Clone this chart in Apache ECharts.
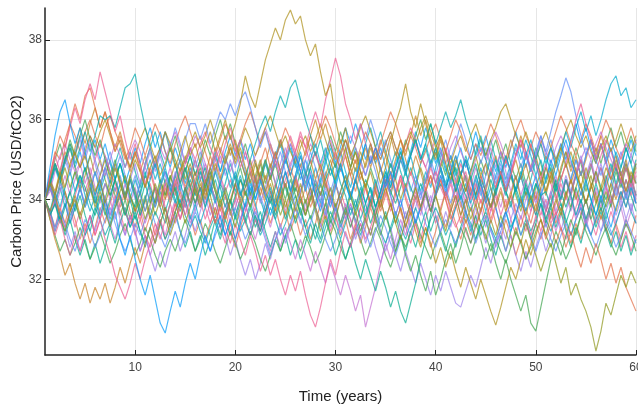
<!DOCTYPE html>
<html>
<head>
<meta charset="utf-8">
<script src="https://cdn.jsdelivr.net/npm/echarts@6/dist/echarts.min.js"></script>
<style>
  html, body { margin: 0; padding: 0; background: #fff; }
  #chart { width: 638px; height: 408px; }
</style>
</head>
<body>
<div id="chart"></div>
<script>
// simulated carbon price paths, half-year samples from year 1 to year 60
// (values estimated by eye from the reference, one row = 5 years)
var xTicks = [10, 20, 30, 40, 50, 60];
var yTicks = [32, 34, 36, 38];

var pathGoldPeak = [
  34.0, 34.4, 34.1, 34.7, 34.3, 34.9, 35.2, 34.8, 35.1, 34.6,
  34.2, 34.5, 33.9, 34.3, 34.8, 34.4, 34.0, 34.6, 35.0, 34.7,
  34.3, 34.8, 35.1, 34.6, 34.9, 35.3, 34.8, 35.2, 35.6, 35.1,
  35.4, 34.9, 35.3, 35.7, 35.2, 35.6, 36.0, 35.5, 35.9, 36.4,
  37.1, 36.6, 36.3, 36.9, 37.5, 37.9, 38.3, 38.0, 38.5, 38.75,
  38.4, 38.6, 38.0, 37.6, 37.9, 37.2, 36.6, 36.9, 36.0, 35.4,
  35.8, 35.1, 34.7, 35.2, 34.8, 35.3, 34.9, 34.4, 34.8, 35.4,
  35.9, 36.3, 36.9, 36.2, 35.8, 36.4, 35.9, 35.4, 35.0, 35.5,
  34.9, 34.5, 35.0, 34.6, 34.2, 34.7, 35.1, 34.6, 34.9, 34.3,
  33.8, 34.2, 33.7, 34.1, 34.6, 34.0, 33.6, 34.1, 33.7, 34.3,
  34.8, 34.4, 34.9, 35.3, 34.8, 35.2, 34.7, 34.3, 34.8, 34.4,
  33.9, 34.3, 34.8, 34.5, 35.0, 34.6, 34.2, 34.7, 34.4
];
var pathOliveDip = [
  34.0, 33.7, 34.1, 33.6, 33.2, 33.7, 34.0, 33.5, 33.9, 34.3,
  33.8, 34.2, 33.7, 33.3, 33.8, 34.2, 34.6, 34.1, 33.7, 34.0,
  33.5, 33.9, 34.4, 34.0, 33.6, 33.1, 33.5, 33.9, 33.4, 33.8,
  34.3, 33.9, 34.4, 34.8, 34.3, 33.9, 34.2, 33.7, 33.3, 33.8,
  34.2, 33.8, 34.3, 34.7, 34.2, 34.6, 34.1, 33.6, 34.0, 33.5,
  33.9, 34.4, 33.9, 34.3, 33.8, 33.4, 33.9, 34.3, 33.8, 34.2,
  34.6, 34.1, 33.6, 34.0, 33.5, 33.1, 33.6, 34.0, 33.5, 33.9,
  33.4, 33.0, 33.5, 33.9, 34.3, 33.8, 34.2, 33.7, 34.1, 33.6,
  33.2, 33.7, 34.1, 33.6, 34.0, 33.5, 33.9, 33.4, 33.0, 33.5,
  33.1, 33.6, 33.2, 32.8, 33.3, 32.9, 33.4, 33.0, 32.6, 32.2,
  32.6, 32.9, 32.4, 31.9, 32.3, 31.6, 31.9, 31.5, 31.2, 30.8,
  30.2, 30.7, 31.4, 31.1, 31.6, 32.1, 31.8, 32.2, 31.9
];
var pathBlueDip = [
  34.0, 34.8, 35.6, 36.2, 36.5, 35.9, 35.4, 35.8, 35.2, 34.6,
  34.1, 34.5, 33.8, 33.3, 33.7, 33.0, 32.6, 33.1, 32.5, 32.0,
  31.6, 32.1, 31.5, 30.9, 30.65, 31.2, 31.7, 31.3, 31.9, 32.4,
  32.0, 32.6, 33.1, 32.7, 33.2, 33.6, 33.1, 33.5, 33.0, 33.4,
  33.9, 34.4, 34.0, 34.5, 34.1, 33.6, 34.0, 34.5, 35.0, 34.6,
  35.1, 34.7, 34.2, 34.6, 34.1, 33.7, 34.2, 33.8, 34.3, 34.8,
  34.4, 34.0, 34.5, 35.0, 35.4, 34.9, 35.3, 34.8, 34.3, 34.7,
  34.2, 33.8, 34.3, 33.9, 33.4, 33.8, 34.2, 33.7, 34.1, 34.6,
  34.2, 34.7, 35.1, 34.6, 35.0, 34.5, 34.0, 34.4, 33.9, 34.3,
  33.8, 33.3, 33.7, 33.2, 33.6, 34.1, 33.7, 34.2, 34.6, 34.1,
  34.5, 35.0, 34.6, 35.1, 35.5, 35.0, 34.6, 34.1, 34.5, 34.0,
  33.6, 34.1, 33.7, 33.3, 33.8, 34.2, 33.8, 34.3, 33.9
];
var pathPinkPeaks = [
  34.0, 34.6, 35.1, 34.7, 35.3, 35.8, 36.3, 35.9, 36.5, 36.9,
  36.5, 37.2, 36.7, 36.2, 35.7, 36.1, 35.5, 35.0, 35.4, 34.9,
  34.4, 34.8, 34.3, 33.9, 34.4, 34.0, 34.5, 34.1, 33.6, 34.0,
  34.5, 34.9, 34.4, 34.8, 35.3, 34.9, 35.4, 35.8, 35.3, 34.8,
  35.2, 34.7, 34.2, 34.6, 34.1, 34.6, 35.0, 34.5, 35.1, 35.6,
  35.2, 35.7, 35.3, 35.8, 36.2, 35.8, 36.5, 37.0, 37.55, 37.1,
  36.4, 36.0, 35.5, 35.9, 35.4, 34.9, 35.3, 34.8, 34.3, 34.7,
  34.2, 34.6, 34.1, 33.7, 34.2, 33.8, 34.3, 34.8, 34.4, 34.9,
  35.3, 34.8, 34.4, 34.9, 34.5, 34.0, 34.4, 33.9, 34.3, 34.8,
  34.3, 34.7, 34.2, 34.6, 35.1, 35.5, 35.0, 35.4, 34.9, 34.5,
  34.9, 34.4, 34.0, 34.5, 34.9, 35.4, 36.0, 36.4, 35.9, 35.5,
  35.0, 35.4, 34.9, 34.5, 34.9, 34.4, 34.8, 34.3, 34.7
];
var pathTealPeaks = [
  34.0, 34.4, 34.9, 34.5, 35.0, 35.4, 34.9, 35.3, 35.7, 35.2,
  35.6, 36.1, 36.0, 36.1, 35.8, 36.3, 36.8, 36.9, 37.15, 36.4,
  35.8, 35.3, 35.7, 35.2, 34.8, 35.3, 34.9, 34.4, 34.8, 34.3,
  33.9, 34.3, 33.8, 34.2, 34.7, 34.3, 33.8, 34.2, 34.6, 34.1,
  34.5, 35.0, 35.4, 35.8, 36.1, 35.7, 36.2, 36.6, 36.3, 36.8,
  37.0, 36.5, 36.0, 35.6, 35.1, 35.5, 35.0, 34.6, 34.9, 34.4,
  34.1, 33.6, 34.0, 33.5, 33.9, 34.3, 33.8, 34.2, 34.7, 34.3,
  34.8, 35.2, 34.7, 35.1, 35.5, 35.0, 35.4, 35.9, 35.4, 35.8,
  36.2, 35.8, 36.1, 36.5, 36.0, 35.6, 35.1, 35.5, 35.0, 34.6,
  35.0, 34.5, 34.1, 34.6, 34.2, 33.8, 34.3, 33.9, 34.4, 34.0,
  33.5, 33.9, 34.4, 34.0, 34.5, 34.1, 33.6, 34.0, 33.5, 33.9,
  34.4, 34.0, 34.5, 34.9, 34.4, 34.8, 35.3, 34.9, 35.4
];
var pathPinkDip = [
  34.0, 33.6, 33.1, 33.5, 33.0, 32.6, 33.1, 32.7, 33.2, 33.6,
  33.1, 33.5, 33.0, 32.6, 32.1, 31.8, 31.5, 31.9, 32.4, 32.0,
  32.5, 32.9, 33.4, 33.0, 33.5, 33.9, 33.4, 33.8, 34.3, 33.9,
  34.4, 34.0, 33.5, 33.9, 33.4, 33.8, 33.3, 32.9, 33.4, 33.0,
  32.6, 33.1, 32.7, 32.2, 32.6, 32.1, 32.5, 32.0, 31.6, 32.1,
  31.7, 32.2, 31.6, 31.1, 30.8, 31.3, 31.9, 32.5, 32.1, 32.7,
  33.2, 32.8, 33.3, 33.8, 33.4, 33.9, 34.3, 33.8, 34.2, 33.7,
  34.1, 34.6, 34.2, 34.7, 34.3, 33.8, 34.2, 33.7, 34.1, 34.5,
  34.0, 34.4, 33.9, 34.3, 34.7, 34.2, 33.8, 34.3, 33.9, 33.4,
  33.8, 33.3, 33.7, 34.1, 33.6, 34.0, 33.5, 33.1, 33.6, 33.2,
  33.7, 34.1, 33.6, 34.0, 34.5, 34.1, 34.6, 35.0, 34.5, 34.9,
  34.4, 34.8, 34.3, 33.9, 34.4, 34.0, 34.5, 34.1, 34.6
];
var pathPurpleDip = [
  34.0, 34.3, 33.8, 34.2, 34.6, 34.1, 34.5, 34.9, 34.4, 34.8,
  34.3, 33.9, 34.4, 34.0, 33.5, 33.9, 34.4, 33.9, 34.3, 33.8,
  33.4, 33.8, 34.3, 33.9, 34.4, 34.8, 34.3, 34.7, 34.2, 34.6,
  35.0, 34.5, 34.9, 34.4, 34.0, 34.5, 34.1, 33.6, 34.0, 33.5,
  33.9, 33.4, 33.0, 33.5, 33.1, 32.7, 33.2, 32.8, 33.3, 32.9,
  32.5, 33.0, 32.6, 32.2, 32.7, 32.3, 31.9, 32.4, 32.0, 31.6,
  32.1, 31.7, 31.2, 31.6, 30.8, 31.3, 31.8, 32.4, 32.9, 32.5,
  33.0, 33.5, 33.1, 33.6, 34.0, 33.6, 34.1, 33.7, 34.2, 34.6,
  34.1, 34.5, 34.0, 34.4, 33.9, 34.3, 34.8, 34.4, 34.9, 35.3,
  34.8, 35.2, 34.7, 34.2, 34.6, 34.1, 34.5, 34.0, 33.6, 34.1,
  33.7, 34.2, 34.6, 34.1, 34.5, 34.0, 33.5, 33.9, 33.4, 33.8,
  34.3, 33.9, 34.4, 34.8, 34.3, 34.7, 34.2, 34.6, 34.1
];
var pathLavenderLow = [
  34.0, 34.4, 34.9, 34.5, 35.0, 34.6, 35.1, 35.5, 35.0, 35.4,
  34.9, 34.4, 34.8, 34.3, 33.9, 34.4, 34.0, 34.5, 34.9, 34.4,
  34.8, 35.2, 34.7, 35.1, 34.6, 34.2, 34.7, 34.3, 33.8, 34.2,
  33.7, 34.1, 34.6, 34.2, 34.7, 35.1, 34.6, 35.0, 34.5, 34.1,
  34.5, 34.0, 34.4, 33.9, 34.3, 34.8, 34.4, 34.9, 35.3, 34.8,
  35.2, 34.7, 34.3, 34.7, 34.2, 33.8, 34.3, 33.9, 34.4, 34.0,
  33.5, 33.9, 33.4, 33.0, 33.5, 33.1, 33.6, 33.2, 32.7, 33.1,
  32.6, 32.2, 32.7, 32.3, 31.9, 32.4, 32.0, 31.6, 32.1, 31.7,
  32.2, 31.8, 31.4, 31.3, 31.7, 32.1, 31.8, 32.3, 32.8, 32.4,
  32.9, 33.4, 33.0, 33.5, 33.9, 33.5, 34.0, 34.4, 33.9, 34.3,
  33.8, 34.2, 33.7, 34.1, 34.6, 34.2, 34.7, 35.1, 34.6, 35.0,
  34.5, 34.9, 34.4, 33.9, 34.3, 33.8, 34.2, 33.7, 34.1
];
var pathTealDip = [
  34.0, 33.6, 33.9, 33.4, 33.8, 34.2, 33.7, 34.1, 33.6, 33.2,
  33.7, 34.1, 33.6, 34.0, 34.5, 34.1, 33.6, 34.0, 33.5, 33.9,
  34.4, 33.9, 34.3, 33.8, 33.4, 33.9, 34.3, 33.8, 34.2, 34.7,
  34.2, 33.8, 34.3, 33.9, 33.4, 33.0, 33.5, 33.1, 33.6, 34.0,
  33.5, 33.1, 33.6, 33.2, 33.7, 34.1, 33.6, 34.0, 33.5, 33.9,
  33.4, 33.8, 33.3, 32.9, 33.4, 33.0, 33.5, 33.1, 32.6, 33.0,
  32.5, 32.9, 32.4, 32.0, 32.5, 32.1, 31.7, 32.2, 31.8, 31.3,
  31.7, 31.2, 30.9, 31.4, 31.9, 32.5, 33.0, 33.6, 34.2, 34.8,
  34.3, 34.7, 34.2, 34.6, 35.0, 34.5, 34.9, 34.4, 34.0, 34.5,
  34.1, 34.6, 34.2, 33.8, 34.3, 33.9, 34.4, 34.0, 33.6, 34.1,
  34.2, 33.8, 34.3, 33.9, 33.4, 33.8, 34.3, 33.9, 34.4, 34.0,
  33.6, 34.0, 33.5, 33.9, 34.4, 34.0, 34.5, 34.1, 33.7
];
var pathBluePeak = [
  34.0, 34.3, 33.9, 34.4, 34.0, 33.5, 33.9, 34.3, 33.8, 34.2,
  34.7, 34.3, 34.8, 35.2, 34.7, 35.1, 34.6, 34.2, 34.6, 34.1,
  33.7, 34.2, 33.8, 34.3, 34.7, 34.2, 34.6, 35.0, 35.5, 35.9,
  35.9, 35.5, 35.9, 35.4, 35.8, 36.2, 36.0, 36.4, 36.1, 36.5,
  36.7, 36.3, 35.8, 35.3, 35.7, 35.2, 34.8, 35.2, 34.7, 34.3,
  33.8, 34.2, 34.6, 34.1, 34.5, 34.0, 33.6, 34.1, 33.7, 34.2,
  34.6, 34.1, 34.5, 35.0, 34.6, 35.1, 34.7, 34.2, 34.6, 34.1,
  33.6, 34.0, 33.5, 33.9, 34.4, 34.0, 34.5, 34.9, 34.4, 34.8,
  34.3, 33.9, 34.4, 34.0, 33.6, 34.1, 34.5, 34.1, 34.6, 35.0,
  34.5, 34.9, 34.4, 34.8, 35.3, 34.8, 35.2, 34.7, 35.1, 35.6,
  35.2, 35.7, 36.2, 36.6, 37.05, 36.7, 36.1, 35.6, 35.1, 35.5,
  35.0, 34.6, 35.0, 34.5, 34.1, 34.5, 34.0, 34.4, 33.9
];
var pathCyanEnd = [
  34.0, 33.7, 34.2, 33.8, 34.3, 34.7, 34.2, 34.6, 34.1, 33.7,
  34.1, 33.6, 34.0, 33.5, 33.9, 34.4, 34.0, 34.5, 34.1, 33.6,
  34.0, 34.5, 34.9, 34.4, 34.8, 34.3, 33.9, 34.4, 34.0, 33.5,
  33.9, 33.4, 33.8, 34.3, 33.9, 34.4, 34.8, 34.3, 34.7, 34.2,
  33.8, 34.3, 33.9, 33.4, 33.9, 34.3, 33.8, 34.2, 34.7, 34.2,
  34.6, 35.1, 34.6, 35.0, 35.4, 34.9, 35.3, 34.8, 34.4, 34.9,
  34.4, 34.0, 34.5, 34.1, 33.6, 34.0, 34.5, 34.0, 34.4, 34.9,
  34.5, 35.0, 34.6, 35.1, 35.5, 35.0, 35.4, 34.9, 35.3, 34.8,
  34.4, 34.9, 34.5, 34.0, 34.4, 33.9, 34.3, 34.8, 34.3, 34.7,
  34.2, 34.6, 35.1, 34.7, 34.2, 34.6, 35.1, 35.5, 35.0, 35.4,
  34.9, 35.3, 34.8, 35.2, 35.7, 35.3, 35.8, 36.2, 35.7, 36.1,
  35.6, 36.0, 36.5, 36.9, 37.1, 36.6, 36.8, 36.3, 36.5
];
var pathOrangeEnd = [
  34.0, 34.6, 35.1, 35.6, 35.3, 35.9, 36.4, 36.0, 36.6, 36.8,
  36.3, 35.8, 36.2, 35.7, 35.2, 35.6, 35.1, 34.7, 35.2, 34.8,
  34.3, 34.7, 34.2, 33.8, 34.3, 33.9, 34.4, 34.8, 34.3, 34.7,
  34.2, 33.8, 34.3, 33.8, 33.4, 33.9, 33.5, 34.0, 34.4, 33.9,
  34.3, 34.8, 34.4, 34.9, 35.3, 34.8, 35.2, 34.7, 34.3, 34.8,
  34.4, 33.9, 34.3, 33.8, 34.2, 34.7, 34.3, 34.8, 35.2, 34.7,
  35.1, 34.6, 34.2, 34.7, 34.3, 33.8, 34.2, 33.7, 34.1, 34.6,
  34.1, 34.5, 34.0, 33.6, 34.1, 33.7, 34.2, 34.6, 34.1, 34.5,
  34.0, 33.5, 33.9, 33.4, 33.8, 34.3, 33.9, 34.4, 34.0, 33.5,
  33.9, 34.3, 33.8, 34.2, 33.7, 33.3, 33.8, 33.4, 33.9, 33.5,
  33.0, 33.4, 32.9, 33.3, 32.8, 33.2, 32.7, 32.3, 32.8, 32.4,
  32.9, 32.5, 32.0, 32.4, 31.9, 32.3, 31.8, 31.5, 31.2
];
var pathGoldLow = [
  34.0, 33.5, 33.0, 32.6, 32.1, 32.4, 31.9, 31.5, 31.9, 31.4,
  31.8, 31.5, 31.9, 31.4, 31.8, 32.3, 31.9, 32.4, 32.8, 32.4,
  32.9, 33.3, 32.9, 33.4, 33.8, 33.3, 33.7, 34.2, 33.8, 34.3,
  34.7, 34.2, 34.6, 35.1, 34.7, 35.2, 35.6, 35.1, 35.5, 35.0,
  34.6, 35.0, 34.5, 34.1, 34.6, 34.2, 33.7, 34.1, 33.6, 34.0,
  34.5, 34.1, 34.6, 35.0, 34.5, 34.9, 34.4, 34.0, 34.4, 33.9,
  34.3, 34.8, 34.4, 34.9, 35.3, 34.8, 35.2, 34.7, 35.1, 35.6,
  35.1, 35.5, 35.0, 34.6, 35.1, 34.7, 34.2, 34.6, 34.1, 33.7,
  34.2, 33.8, 34.3, 33.9, 33.4, 33.8, 33.3, 33.7, 34.2, 33.8,
  34.3, 34.7, 34.2, 34.6, 35.0, 34.5, 34.9, 34.4, 34.0, 34.5,
  34.1, 34.6, 35.0, 34.5, 34.9, 34.4, 34.8, 34.3, 33.9, 34.4,
  34.0, 33.5, 33.9, 34.4, 34.0, 34.5, 34.9, 34.4, 34.8
];
var pathTanDip = [
  34.0, 34.5, 34.1, 34.6, 34.2, 33.7, 34.1, 33.6, 34.0, 34.5,
  34.1, 34.6, 35.0, 34.5, 34.9, 34.4, 34.0, 34.5, 34.1, 33.6,
  34.0, 33.5, 33.9, 34.4, 34.0, 34.5, 34.9, 34.4, 34.8, 34.3,
  33.9, 34.4, 34.0, 34.5, 34.9, 34.5, 35.0, 35.4, 34.9, 35.3,
  34.8, 34.4, 34.9, 34.5, 34.0, 34.4, 33.9, 34.3, 33.8, 34.2,
  33.7, 34.1, 33.6, 34.0, 34.5, 34.1, 34.6, 35.0, 34.5, 34.9,
  35.3, 34.8, 35.2, 34.7, 34.3, 34.7, 34.2, 33.8, 34.3, 33.9,
  33.4, 33.8, 33.3, 33.7, 33.2, 32.8, 33.3, 32.9, 32.4, 32.8,
  32.3, 32.7, 32.2, 31.8, 32.3, 31.9, 31.5, 32.0, 31.6, 31.2,
  30.85, 31.3, 31.8, 32.3, 32.0, 32.5, 33.0, 32.6, 33.1, 33.5,
  33.1, 33.6, 34.0, 33.6, 34.1, 34.5, 34.0, 34.4, 33.9, 34.3,
  34.7, 34.2, 34.6, 34.1, 33.7, 34.2, 33.8, 34.3, 33.9
];
var pathGreenDip = [
  34.0, 34.4, 34.9, 34.5, 35.0, 35.5, 35.1, 35.6, 36.0, 35.5,
  35.1, 35.5, 35.0, 34.6, 35.0, 34.5, 34.1, 34.6, 34.2, 33.7,
  34.1, 33.6, 34.0, 34.5, 34.1, 34.6, 34.2, 33.8, 34.3, 33.9,
  34.4, 34.8, 34.3, 34.7, 34.2, 33.8, 34.3, 33.9, 34.4, 34.8,
  34.3, 34.7, 34.2, 34.6, 35.0, 34.5, 34.9, 34.4, 34.0, 34.5,
  34.1, 33.6, 34.0, 33.5, 33.9, 34.4, 34.0, 33.5, 33.9, 33.4,
  33.8, 33.3, 33.7, 33.2, 33.6, 34.0, 33.5, 33.1, 33.6, 33.2,
  32.7, 33.1, 32.6, 32.2, 32.6, 32.1, 31.7, 32.2, 31.6, 32.0,
  32.5, 32.9, 32.4, 32.8, 33.3, 32.9, 33.4, 33.0, 32.5, 32.9,
  32.4, 32.0, 32.5, 32.0, 31.6, 31.2, 31.6, 30.9, 30.7, 31.3,
  31.9, 32.5, 33.0, 32.6, 33.1, 33.5, 33.1, 33.6, 34.0, 33.5,
  33.9, 34.3, 33.8, 34.2, 34.7, 34.3, 34.8, 34.4, 34.9
];
var pathMid1 = [
  34.0, 34.3, 34.8, 34.4, 34.9, 35.3, 34.8, 35.2, 34.7, 35.1,
  35.5, 35.0, 35.4, 34.9, 34.5, 34.9, 34.4, 34.8, 35.3, 34.9,
  35.4, 35.8, 35.3, 35.7, 35.2, 34.8, 35.3, 34.9, 34.4, 34.8,
  34.3, 34.7, 34.2, 34.6, 35.1, 34.7, 35.2, 35.6, 35.1, 35.5,
  35.0, 35.4, 34.9, 34.5, 35.0, 34.6, 35.1, 35.5, 35.0, 35.4,
  34.9, 34.5, 35.0, 34.6, 34.1, 34.5, 35.0, 35.4, 34.9, 35.3,
  35.8, 35.4, 35.9, 35.5, 35.0, 35.4, 34.9, 35.3, 34.8, 34.4,
  34.9, 35.3, 34.8, 35.2, 35.7, 35.3, 35.8, 35.4, 34.9, 35.3,
  34.8, 34.4, 34.9, 35.3, 34.8, 35.2, 35.7, 35.2, 35.6, 35.1,
  34.7, 35.2, 34.8, 35.3, 35.7, 35.2, 34.8, 35.3, 34.9, 34.4,
  34.8, 35.3, 34.9, 35.4, 35.0, 35.5, 35.9, 35.4, 35.8, 35.3,
  34.9, 35.4, 35.0, 35.5, 35.1, 34.6, 35.0, 35.5, 35.1
];
var pathMid2 = [
  34.0, 33.7, 33.3, 33.8, 33.4, 33.9, 33.5, 33.0, 33.4, 32.9,
  33.3, 33.8, 33.4, 33.9, 34.3, 33.8, 34.2, 33.7, 33.3, 33.7,
  33.2, 33.6, 33.1, 33.5, 33.0, 33.4, 33.9, 33.5, 34.0, 33.6,
  33.1, 33.5, 33.0, 33.4, 33.8, 33.3, 33.7, 33.2, 32.8, 33.3,
  33.7, 34.2, 33.8, 34.3, 33.9, 33.4, 33.8, 33.3, 33.7, 33.2,
  33.6, 33.1, 33.5, 33.0, 33.4, 33.9, 33.5, 34.0, 33.6, 33.1,
  33.5, 33.0, 33.4, 32.9, 33.3, 33.8, 33.4, 33.9, 34.3, 33.8,
  34.2, 33.7, 33.3, 33.8, 33.4, 32.9, 33.3, 32.8, 33.2, 33.7,
  33.3, 33.8, 33.4, 33.0, 33.5, 33.1, 33.6, 34.0, 33.5, 33.9,
  33.4, 33.0, 33.5, 33.1, 32.6, 33.0, 32.5, 32.9, 33.4, 33.0,
  33.5, 33.9, 33.4, 33.8, 33.3, 32.9, 33.4, 33.0, 33.5, 33.9,
  33.4, 33.8, 33.3, 32.9, 33.4, 33.0, 33.5, 33.1, 33.6
];
var pathMid3 = [
  34.0, 34.5, 35.0, 35.4, 34.9, 35.3, 34.8, 34.4, 34.8, 34.3,
  33.9, 34.4, 34.0, 34.5, 34.1, 33.6, 34.0, 33.5, 33.9, 34.4,
  34.9, 35.3, 34.8, 35.2, 35.7, 35.2, 35.6, 35.1, 34.7, 35.1,
  34.6, 35.0, 35.5, 35.1, 35.6, 36.0, 35.5, 35.9, 35.4, 35.0,
  35.4, 34.9, 34.5, 34.9, 34.4, 34.8, 35.2, 34.7, 35.1, 34.6,
  34.2, 34.7, 34.3, 34.8, 35.2, 34.7, 35.1, 35.6, 35.2, 35.7,
  35.3, 34.8, 35.2, 34.7, 34.3, 34.8, 34.4, 34.0, 34.5, 34.1,
  34.6, 35.0, 35.5, 35.1, 35.6, 36.0, 35.5, 35.9, 35.4, 35.0,
  34.6, 35.1, 34.7, 34.2, 34.6, 34.1, 34.5, 35.0, 34.6, 35.1,
  35.5, 35.0, 35.4, 34.9, 34.5, 34.9, 34.4, 34.8, 35.3, 34.9,
  34.4, 34.8, 34.3, 34.7, 35.2, 34.8, 35.3, 34.9, 34.4, 34.8,
  35.3, 34.9, 35.4, 35.8, 35.3, 35.7, 35.2, 35.6, 35.2
];
var pathMid4 = [
  34.0, 33.6, 34.0, 33.5, 33.9, 33.4, 33.8, 34.3, 33.9, 34.4,
  34.0, 33.5, 33.9, 33.4, 33.0, 33.5, 33.1, 33.6, 33.2, 32.7,
  33.1, 32.6, 33.0, 33.5, 33.1, 33.6, 34.0, 33.5, 33.9, 33.4,
  33.8, 34.3, 33.9, 34.4, 34.0, 33.5, 33.9, 33.4, 33.8, 34.2,
  33.7, 34.1, 33.6, 33.2, 33.7, 33.3, 33.8, 34.2, 33.7, 34.1,
  34.6, 34.2, 34.7, 34.3, 33.8, 34.2, 33.7, 34.1, 33.6, 33.2,
  33.7, 33.3, 33.8, 34.2, 33.7, 34.1, 33.6, 34.0, 34.5, 34.1,
  33.6, 34.0, 33.5, 33.9, 33.4, 33.8, 34.3, 33.9, 34.4, 34.8,
  34.3, 34.7, 34.2, 33.8, 34.3, 33.9, 33.4, 33.8, 33.3, 33.7,
  34.2, 33.8, 34.3, 34.7, 34.2, 34.6, 34.1, 33.7, 34.2, 33.8,
  33.3, 33.7, 33.2, 33.6, 34.1, 33.7, 34.2, 33.8, 33.3, 33.7,
  34.2, 33.8, 34.3, 33.9, 33.4, 33.8, 33.3, 33.7, 34.2
];
var pathMid5 = [
  34.0, 34.4, 33.9, 34.3, 33.8, 34.2, 34.7, 34.3, 34.8, 34.4,
  33.9, 34.3, 34.8, 34.4, 34.9, 35.3, 34.8, 35.2, 34.7, 34.3,
  34.7, 34.2, 33.8, 34.2, 33.7, 34.1, 34.6, 34.2, 34.7, 35.1,
  34.6, 35.0, 34.5, 34.1, 34.5, 34.0, 34.4, 34.9, 34.5, 35.0,
  34.6, 34.1, 34.5, 34.0, 33.6, 34.0, 33.5, 33.9, 34.4, 34.0,
  34.5, 34.9, 34.4, 34.8, 34.3, 33.9, 34.4, 34.0, 34.5, 34.9,
  34.4, 34.8, 35.3, 34.9, 35.4, 35.8, 35.3, 35.7, 35.2, 34.8,
  35.2, 34.7, 34.3, 34.8, 34.4, 34.9, 35.3, 34.8, 35.2, 34.7,
  34.3, 34.7, 34.2, 34.6, 35.1, 34.7, 35.2, 35.6, 35.1, 35.5,
  35.0, 34.6, 35.1, 34.7, 34.2, 34.6, 34.1, 34.5, 35.0, 34.6,
  35.1, 34.7, 34.2, 34.6, 34.1, 34.5, 35.0, 34.6, 35.1, 35.5,
  35.0, 35.4, 34.9, 35.3, 34.8, 34.4, 34.9, 34.5, 35.0
];
var pathMid6 = [
  34.0, 33.6, 34.1, 33.7, 34.2, 33.8, 33.3, 33.7, 33.2, 33.6,
  33.1, 33.5, 34.0, 33.6, 34.1, 33.7, 33.2, 33.6, 33.1, 33.5,
  34.0, 34.4, 33.9, 34.3, 33.8, 33.4, 33.9, 33.5, 34.0, 34.4,
  33.9, 34.3, 33.8, 33.4, 33.8, 33.3, 32.9, 33.4, 33.0, 33.5,
  33.9, 33.4, 33.8, 33.3, 33.7, 34.2, 33.8, 34.3, 34.7, 34.2,
  34.6, 34.1, 33.7, 34.2, 33.8, 33.3, 33.7, 33.2, 33.6, 34.0,
  33.5, 33.9, 33.4, 33.8, 34.3, 33.9, 34.4, 34.0, 33.5, 33.9,
  33.4, 33.8, 33.3, 32.9, 33.4, 33.0, 33.5, 33.9, 33.4, 33.8,
  34.2, 33.7, 34.1, 33.6, 34.0, 34.5, 34.1, 34.6, 34.2, 33.7,
  34.1, 33.6, 34.0, 33.5, 33.1, 33.6, 33.2, 33.7, 34.1, 33.6,
  34.0, 33.5, 33.9, 34.4, 34.0, 34.5, 34.1, 33.6, 34.0, 33.5,
  33.1, 33.6, 33.2, 33.7, 33.3, 32.8, 33.2, 32.7, 33.1
];
var pathMid7 = [
  34.0, 34.5, 34.2, 34.7, 35.2, 34.8, 35.3, 35.8, 35.4, 35.9,
  36.3, 35.8, 36.2, 35.7, 35.3, 35.7, 35.2, 34.8, 35.2, 34.7,
  35.1, 34.6, 35.0, 34.5, 34.1, 34.6, 34.2, 34.7, 35.1, 34.6,
  35.0, 34.5, 34.1, 34.6, 34.2, 33.7, 34.1, 33.6, 34.0, 34.5,
  34.1, 34.6, 35.0, 34.5, 34.9, 35.4, 35.0, 35.5, 35.1, 34.6,
  35.0, 35.5, 35.1, 35.6, 36.0, 35.5, 35.9, 35.4, 35.0, 35.5,
  35.1, 34.6, 35.0, 34.5, 34.9, 35.4, 35.0, 35.5, 35.1, 34.6,
  35.0, 35.5, 35.1, 35.6, 36.1, 35.6, 36.0, 35.5, 35.1, 35.6,
  35.2, 34.7, 35.1, 34.6, 35.0, 34.5, 34.1, 34.6, 34.2, 34.7,
  35.1, 34.6, 35.0, 35.5, 35.1, 35.6, 35.2, 34.7, 35.1, 34.6,
  34.2, 34.7, 34.3, 34.8, 35.2, 34.7, 35.1, 34.6, 35.0, 35.5,
  35.1, 35.6, 35.2, 34.7, 35.1, 34.6, 35.0, 34.5, 34.9
];
var pathMid8 = [
  34.0, 33.7, 33.2, 33.6, 33.1, 33.5, 33.0, 32.6, 33.0, 32.5,
  32.9, 32.4, 32.8, 33.3, 32.9, 33.4, 33.8, 33.3, 33.7, 33.2,
  32.8, 33.3, 32.9, 33.4, 33.8, 33.3, 33.7, 33.2, 32.8, 33.2,
  32.7, 33.1, 32.6, 33.0, 33.5, 33.1, 33.6, 34.0, 33.5, 33.9,
  33.4, 33.8, 33.3, 33.7, 33.2, 32.8, 33.2, 32.7, 33.1, 32.6,
  33.0, 32.5, 32.9, 33.4, 33.0, 33.5, 33.9, 33.4, 33.8, 33.3,
  33.7, 34.2, 33.8, 34.3, 33.9, 33.4, 33.8, 33.3, 33.7, 33.2,
  33.6, 33.1, 32.7, 33.2, 32.8, 33.3, 33.7, 33.2, 33.6, 33.1,
  32.7, 33.2, 32.8, 33.3, 33.7, 33.2, 33.6, 33.1, 33.5, 33.0,
  32.6, 33.1, 32.7, 33.2, 33.6, 33.1, 33.5, 33.0, 33.4, 33.9,
  33.4, 33.8, 33.3, 33.7, 33.2, 32.8, 33.3, 32.9, 33.4, 33.8,
  33.3, 33.7, 33.2, 32.8, 33.2, 32.7, 33.1, 32.6, 33.0
];
var pathMid9 = [
  34.0, 34.3, 33.9, 34.4, 34.8, 34.3, 34.7, 34.2, 34.6, 35.1,
  34.6, 35.0, 34.5, 34.1, 34.5, 34.0, 33.6, 34.1, 33.7, 34.2,
  33.7, 34.1, 33.6, 34.0, 34.5, 34.1, 34.6, 35.0, 34.5, 34.9,
  34.4, 34.0, 34.5, 34.1, 33.6, 34.0, 33.5, 33.9, 34.4, 34.0,
  34.5, 34.1, 34.6, 35.0, 34.5, 34.9, 34.4, 34.0, 34.4, 33.9,
  33.5, 34.0, 33.6, 34.1, 33.7, 33.2, 33.6, 33.1, 33.5, 34.0,
  33.6, 34.1, 34.5, 34.0, 34.4, 33.9, 34.3, 34.8, 34.4, 34.9,
  34.5, 34.0, 34.4, 33.9, 34.3, 34.8, 34.4, 34.9, 35.3, 34.8,
  35.2, 34.7, 34.3, 34.7, 34.2, 34.6, 34.1, 33.7, 34.2, 33.8,
  34.3, 34.7, 34.2, 34.6, 34.1, 33.7, 34.2, 33.8, 34.3, 34.7,
  34.2, 34.6, 34.1, 33.7, 34.2, 33.8, 34.3, 34.7, 34.2, 34.6,
  34.1, 33.7, 34.2, 33.8, 34.3, 34.7, 34.2, 34.6, 34.1
];
var pathMid10 = [
  34.0, 34.4, 34.0, 33.5, 33.9, 33.4, 33.8, 34.3, 33.8, 34.2,
  34.7, 34.2, 34.6, 35.0, 34.5, 34.9, 34.4, 34.0, 34.5, 34.1,
  34.6, 35.0, 34.5, 34.9, 34.4, 34.0, 34.4, 33.9, 34.3, 33.8,
  34.2, 34.7, 34.3, 34.8, 35.2, 34.7, 35.1, 34.6, 34.2, 34.6,
  34.1, 34.5, 34.0, 34.4, 34.9, 34.5, 35.0, 35.4, 34.9, 35.3,
  34.8, 35.2, 34.7, 34.3, 34.8, 34.4, 34.9, 35.3, 34.8, 35.2,
  34.7, 34.3, 34.8, 34.4, 33.9, 34.3, 33.8, 34.2, 34.7, 34.3,
  34.8, 35.2, 34.7, 35.1, 34.6, 34.2, 34.7, 34.3, 34.8, 35.2,
  34.7, 35.1, 34.6, 35.0, 34.5, 34.1, 34.6, 34.2, 33.7, 34.1,
  34.6, 35.0, 34.5, 34.9, 35.4, 35.0, 35.5, 35.1, 34.6, 35.0,
  34.5, 34.9, 34.4, 34.0, 34.5, 34.1, 34.6, 35.0, 34.5, 34.9,
  34.4, 34.8, 34.3, 34.7, 35.2, 34.8, 35.3, 34.9, 34.4
];
var pathMid11 = [
  34.0, 33.6, 33.2, 33.7, 33.3, 32.8, 33.2, 32.7, 33.1, 33.6,
  33.2, 33.7, 34.1, 33.6, 34.0, 33.5, 33.1, 33.6, 33.2, 32.7,
  33.1, 32.6, 32.2, 32.7, 32.3, 32.8, 33.2, 32.7, 33.1, 33.6,
  33.2, 33.7, 34.1, 33.6, 34.0, 33.5, 33.1, 32.6, 33.0, 32.5,
  32.1, 32.5, 32.0, 32.4, 32.9, 32.5, 33.0, 33.4, 32.9, 33.3,
  33.8, 33.4, 33.9, 34.3, 33.8, 34.2, 33.7, 33.3, 33.8, 33.4,
  33.9, 33.5, 33.0, 33.4, 32.9, 33.3, 32.8, 32.4, 32.9, 33.3,
  32.8, 33.2, 33.7, 33.3, 33.8, 34.2, 33.7, 34.1, 33.6, 33.2,
  33.7, 33.3, 33.8, 34.2, 33.7, 33.3, 33.8, 33.4, 32.9, 33.3,
  32.8, 33.2, 32.7, 33.1, 32.6, 32.2, 32.7, 32.3, 32.8, 33.2,
  32.7, 33.1, 33.6, 33.2, 33.7, 34.1, 33.6, 34.0, 33.5, 33.1,
  33.6, 33.2, 33.7, 34.1, 33.6, 34.0, 33.5, 33.9, 33.4
];
var pathMid12 = [
  34.0, 34.5, 34.1, 34.6, 35.1, 34.7, 35.2, 35.6, 35.1, 35.5,
  35.0, 34.6, 35.1, 34.7, 34.2, 34.6, 34.1, 34.5, 34.0, 34.4,
  34.9, 35.3, 34.8, 35.2, 35.7, 35.3, 35.8, 35.4, 34.9, 35.3,
  34.8, 35.2, 34.7, 34.3, 34.8, 34.4, 34.9, 35.3, 34.8, 35.2,
  34.7, 34.2, 34.6, 34.1, 33.7, 34.2, 33.8, 34.3, 34.7, 34.2,
  34.6, 35.1, 34.7, 35.2, 34.8, 34.3, 34.7, 34.2, 34.6, 35.1,
  35.5, 35.0, 35.4, 35.9, 35.5, 36.0, 35.6, 35.1, 35.5, 35.0,
  34.6, 35.1, 34.7, 34.2, 34.6, 34.1, 34.5, 35.0, 34.6, 35.1,
  35.5, 35.0, 35.4, 35.9, 35.5, 35.0, 35.4, 34.9, 35.3, 34.8,
  34.4, 34.8, 34.3, 34.7, 34.2, 34.6, 35.1, 34.7, 35.2, 35.6,
  35.1, 35.5, 35.0, 35.4, 34.9, 34.5, 35.0, 34.6, 35.1, 35.5,
  35.0, 35.4, 34.9, 35.3, 34.8, 35.2, 34.7, 35.1, 35.5
];
var pathUpper1 = [
  34.0, 34.6, 35.2, 35.0, 35.5, 35.9, 35.6, 35.2, 35.7, 36.0,
  35.6, 35.3, 35.8, 36.1, 35.7, 35.4, 35.0, 35.3, 35.8, 35.5,
  35.1, 35.5, 35.9, 35.6, 35.2, 34.9, 35.4, 35.8, 36.1, 35.7,
  35.3, 35.6, 35.2, 34.8, 35.1, 35.5, 35.9, 35.6, 35.2, 35.5,
  35.9, 36.2, 35.8, 35.4, 35.7, 35.3, 35.0, 35.4, 35.8, 35.5,
  35.1, 34.8, 35.2, 35.6, 35.3, 35.7, 36.1, 35.8, 35.4, 35.1,
  35.5, 35.2, 34.9, 35.3, 35.7, 35.4, 35.0, 35.4, 35.8, 36.2,
  35.9, 35.5, 35.2, 35.6, 35.3, 34.9, 35.2, 35.6, 35.9, 35.5,
  35.2, 35.6, 36.0, 35.7, 35.3, 35.0, 35.4, 35.1, 35.5, 35.9,
  35.6, 35.2, 34.9, 35.3, 35.7, 36.0, 35.6, 35.3, 35.7, 35.4,
  35.0, 35.3, 35.7, 36.1, 35.8, 35.4, 35.1, 35.5, 35.9, 35.6,
  35.2, 35.6, 36.0, 35.7, 35.3, 35.0, 35.4, 35.8, 35.4
];
var pathLower1 = [
  34.0, 33.5, 33.1, 32.7, 33.0, 32.6, 32.9, 33.3, 32.9, 32.5,
  32.8, 33.2, 32.8, 32.4, 32.7, 33.1, 33.4, 33.0, 32.6, 32.9,
  33.3, 33.0, 32.6, 32.3, 32.7, 33.0, 32.7, 33.1, 33.5, 33.1,
  32.7, 33.0, 33.4, 33.1, 32.7, 32.4, 32.8, 33.2, 32.9, 32.5,
  32.8, 33.2, 32.9, 32.5, 32.2, 32.6, 33.0, 32.7, 33.1, 33.4,
  33.0, 32.7, 33.1, 32.8, 32.4, 32.7, 33.1, 33.5, 33.2, 32.8,
  32.5, 32.9, 33.3, 33.0, 32.6, 32.9, 33.3, 33.0, 32.6, 32.3,
  32.7, 33.1, 32.8, 33.2, 33.5, 33.1, 32.8, 32.5, 32.9, 33.2,
  32.8, 32.5, 32.9, 33.3, 33.0, 32.6, 33.0, 33.4, 33.1, 32.7,
  33.0, 32.7, 32.4, 32.8, 33.2, 32.9, 32.5, 32.8, 33.2, 33.5,
  33.1, 32.8, 33.2, 32.9, 32.5, 32.8, 33.2, 33.6, 33.2, 32.9,
  32.6, 33.0, 33.3, 32.9, 32.6, 33.0, 33.4, 33.1, 32.7
];
var pathUpper2 = [
  34.0, 34.2, 34.7, 35.1, 35.4, 35.0, 34.7, 34.9, 35.3, 35.6,
  35.3, 34.9, 34.6, 35.0, 35.4, 35.1, 34.8, 35.2, 35.5, 35.2,
  34.8, 34.5, 34.9, 35.3, 35.0, 35.4, 35.7, 35.3, 34.9, 35.2,
  35.6, 35.3, 34.9, 34.6, 35.0, 35.3, 35.0, 34.7, 35.1, 35.5,
  35.2, 34.8, 35.1, 35.5, 35.8, 35.4, 35.0, 34.7, 35.0, 35.4,
  35.1, 34.7, 35.0, 35.4, 35.1, 34.8, 35.2, 35.5, 35.1, 34.8,
  35.2, 35.6, 35.3, 34.9, 34.6, 35.0, 35.3, 35.0, 35.4, 35.7,
  35.3, 35.0, 34.7, 35.1, 35.4, 35.1, 34.8, 35.2, 35.5, 35.2,
  34.9, 35.3, 35.6, 35.2, 34.9, 34.6, 35.0, 35.3, 35.0, 35.4,
  35.7, 35.4, 35.0, 34.7, 35.1, 35.4, 35.1, 34.8, 35.1, 35.5,
  35.2, 34.9, 35.3, 35.6, 35.3, 34.9, 34.6, 35.0, 35.3, 35.0,
  35.4, 35.7, 35.3, 35.0, 34.7, 35.1, 35.4, 35.1, 34.8
];
var pathLower2 = [
  34.0, 33.6, 33.9, 33.5, 33.2, 33.6, 33.9, 33.5, 33.1, 33.4,
  33.8, 33.5, 33.1, 33.4, 33.8, 34.1, 33.7, 33.3, 33.6, 33.2,
  32.9, 33.3, 33.7, 33.4, 33.0, 33.3, 33.7, 34.0, 33.6, 33.3,
  33.6, 33.2, 32.9, 33.3, 33.6, 33.3, 33.7, 34.0, 33.6, 33.2,
  33.5, 33.9, 33.5, 33.1, 33.4, 33.8, 33.5, 33.1, 33.4, 33.8,
  34.1, 33.7, 33.3, 33.6, 33.2, 32.9, 33.3, 33.7, 33.4, 33.0,
  33.4, 33.8, 33.5, 33.1, 33.5, 33.9, 33.6, 33.2, 32.9, 33.3,
  33.7, 33.3, 33.0, 33.4, 33.8, 33.4, 33.1, 33.5, 33.8, 33.5,
  33.1, 33.4, 33.8, 34.1, 33.7, 33.4, 33.0, 33.4, 33.7, 33.3,
  33.0, 33.4, 33.7, 33.3, 33.6, 34.0, 33.6, 33.2, 33.5, 33.9,
  33.5, 33.2, 33.6, 33.9, 33.5, 33.1, 33.5, 33.8, 33.4, 33.1,
  33.5, 33.8, 33.4, 33.1, 33.4, 33.8, 34.1, 33.7, 33.4
];
var pathWide1 = [
  34.0, 34.3, 34.0, 33.6, 33.3, 33.7, 34.1, 34.5, 34.2, 34.6,
  35.0, 35.4, 35.1, 34.7, 34.4, 34.0, 33.7, 33.4, 33.8, 33.5,
  33.1, 32.8, 33.2, 33.6, 34.0, 34.4, 34.1, 34.5, 34.9, 35.3,
  35.0, 35.4, 35.7, 35.3, 35.0, 34.6, 34.2, 34.5, 34.1, 33.8,
  33.4, 33.1, 33.5, 33.2, 33.6, 34.0, 34.4, 34.1, 34.5, 34.9,
  35.2, 35.6, 35.3, 34.9, 35.2, 34.8, 34.5, 34.1, 33.8, 34.2,
  33.8, 33.5, 33.1, 33.4, 33.0, 33.3, 33.7, 34.1, 34.5, 34.2,
  34.6, 35.0, 35.4, 35.8, 35.5, 35.1, 34.8, 34.4, 34.7, 34.3,
  34.0, 33.6, 33.3, 33.6, 33.2, 32.9, 33.3, 33.7, 34.1, 33.8,
  34.2, 34.6, 35.0, 34.7, 35.1, 35.5, 35.2, 34.8, 34.5, 34.1,
  33.8, 33.4, 33.7, 33.3, 33.0, 33.4, 33.8, 34.2, 33.9, 34.3,
  34.7, 35.1, 35.5, 35.2, 34.8, 34.5, 34.1, 34.4, 34.0
];
var pathUpper3 = [
  34.0, 34.5, 34.9, 34.6, 35.0, 35.4, 35.1, 34.8, 35.2, 35.6,
  35.3, 35.7, 36.0, 35.6, 35.2, 35.5, 35.1, 34.8, 35.1, 35.5,
  35.8, 35.4, 35.0, 35.3, 35.7, 35.4, 35.0, 34.7, 35.0, 35.4,
  35.7, 35.3, 35.6, 36.0, 35.6, 35.2, 34.9, 35.3, 35.0, 35.4,
  35.8, 35.5, 35.1, 35.4, 35.8, 36.1, 35.7, 35.3, 35.6, 35.2,
  34.9, 35.3, 35.6, 35.2, 35.5, 35.9, 35.5, 35.1, 34.8, 35.2,
  35.5, 35.1, 35.4, 35.8, 36.1, 35.7, 35.3, 35.0, 35.4, 35.7,
  35.3, 35.0, 35.4, 35.7, 35.4, 35.8, 36.1, 35.7, 35.3, 35.6,
  35.2, 34.9, 35.3, 35.6, 35.2, 35.6, 35.9, 35.5, 35.1, 35.5,
  35.8, 36.2, 36.4, 36.0, 35.6, 35.3, 35.7, 35.3, 35.0, 35.4,
  35.7, 35.3, 35.0, 35.3, 35.7, 36.0, 35.6, 35.3, 35.6, 35.2,
  34.9, 35.3, 35.6, 35.2, 35.5, 35.9, 35.5, 35.2, 35.6
];
var pathLower3 = [
  34.0, 33.7, 33.3, 33.7, 33.4, 33.0, 32.7, 33.1, 33.5, 33.2,
  32.8, 33.1, 33.5, 33.8, 33.4, 33.0, 32.7, 33.0, 33.4, 33.1,
  33.5, 33.8, 33.4, 33.1, 32.8, 33.2, 33.6, 33.2, 32.9, 33.3,
  33.7, 33.4, 33.0, 32.7, 33.1, 33.4, 33.1, 33.5, 33.8, 33.4,
  33.0, 33.3, 33.7, 33.4, 33.0, 32.6, 33.0, 33.3, 33.0, 33.4,
  33.8, 33.5, 33.1, 33.4, 33.8, 33.4, 33.0, 32.7, 33.0, 33.4,
  33.1, 32.8, 33.2, 33.5, 33.2, 32.8, 33.2, 33.6, 33.3, 32.9,
  32.6, 33.0, 33.4, 33.1, 33.5, 33.8, 33.4, 33.1, 32.8, 33.2,
  33.5, 33.2, 32.9, 33.2, 33.6, 33.3, 32.9, 33.3, 33.6, 33.2,
  32.9, 33.2, 33.6, 33.9, 33.5, 33.1, 33.4, 33.1, 32.7, 33.1,
  33.4, 33.0, 32.7, 33.1, 33.4, 33.1, 33.5, 33.8, 33.4, 33.1,
  32.8, 33.2, 33.5, 33.2, 32.8, 33.1, 33.5, 33.2, 32.9
];
var pathCentre1 = [
  34.0, 34.4, 34.8, 34.5, 34.1, 33.8, 34.2, 34.6, 34.3, 33.9,
  33.6, 34.0, 34.4, 34.1, 34.5, 34.9, 34.5, 34.1, 33.8, 34.2,
  34.6, 34.3, 33.9, 34.3, 34.7, 34.4, 34.0, 33.7, 34.1, 34.5,
  34.1, 34.5, 34.8, 34.4, 34.0, 34.4, 34.1, 33.7, 34.1, 34.5,
  34.2, 33.8, 34.2, 34.6, 34.2, 33.9, 34.3, 34.7, 34.3, 33.9,
  34.3, 34.0, 33.6, 34.0, 34.4, 34.1, 34.5, 34.8, 34.4, 34.0,
  34.4, 34.1, 33.7, 34.1, 34.5, 34.2, 33.8, 34.2, 34.6, 34.2,
  33.9, 34.3, 34.7, 34.3, 34.0, 34.4, 34.1, 33.7, 34.1, 34.4,
  34.1, 34.5, 34.8, 34.4, 34.1, 33.7, 34.1, 34.5, 34.2, 33.8,
  34.2, 34.6, 34.2, 33.9, 34.3, 34.7, 34.3, 34.0, 34.4, 34.1,
  33.7, 34.1, 34.5, 34.2, 33.8, 34.2, 34.6, 34.3, 33.9, 34.3,
  34.7, 34.3, 34.0, 34.4, 34.8, 34.4, 34.1, 34.5, 34.1
];

var paths = [
  [pathMid1, '#009AFA'], [pathMid2, '#E36F47'], [pathMid3, '#3EA44E'],
  [pathMid4, '#C371D2'], [pathMid5, '#00A9AD'], [pathMid6, '#ED5E93'],
  [pathMid7, '#C68225'], [pathMid8, '#00A98D'], [pathMid9, '#8E971D'],
  [pathMid10, '#00A9CD'], [pathMid11, '#9B7FE9'], [pathMid12, '#618DF6'],
  [pathUpper1, '#E36F47'], [pathLower1, '#3EA44E'], [pathUpper2, '#C371D2'],
  [pathLower2, '#00A9AD'], [pathWide1, '#ED5E93'], [pathUpper3, '#AC8E18'],
  [pathLower3, '#618DF6'], [pathCentre1, '#00A98D'],
  [pathGoldLow, '#C68225'], [pathPurpleDip, '#C371D2'], [pathLavenderLow, '#9B7FE9'],
  [pathTealDip, '#00A98D'], [pathPinkDip, '#ED5E93'], [pathOrangeEnd, '#E36F47'],
  [pathTanDip, '#AC8E18'], [pathGreenDip, '#3EA44E'], [pathBluePeak, '#618DF6'],
  [pathCyanEnd, '#00A9CD'], [pathTealPeaks, '#00A9AD'], [pathPinkPeaks, '#ED5E93'],
  [pathBlueDip, '#009AFA'], [pathOliveDip, '#8E971D'], [pathGoldPeak, '#AC8E18']
];

var startYear = 1, endYear = 60;

var series = paths.map(function (p) {
  var vals = p[0];
  var step = (endYear - startYear) / (vals.length - 1);
  return {
    type: 'line',
    showSymbol: false,
    silent: true,
    lineStyle: { width: 1.2, color: p[1], opacity: 0.7 },
    data: vals.map(function (v, i) { return [startYear + i * step, v]; })
  };
});

var myChart = echarts.init(document.getElementById('chart'));
var axisFont = 'Liberation Sans, Arial, sans-serif';
var option = {
  animation: false,
  grid: { left: 45, right: 2, top: 8, bottom: 53, outerBoundsMode: 'none', containLabel: false },
  xAxis: {
    type: 'value',
    min: startYear,
    max: endYear,
    name: 'Time (years)',
    nameLocation: 'middle',
    nameGap: 34,
    nameMoveOverlap: false,
    nameTextStyle: { fontSize: 15, color: '#222', fontFamily: axisFont },
    axisLine: { lineStyle: { color: '#222', width: 1.5 } },
    axisTick: { inside: true, length: 5, customValues: xTicks, lineStyle: { color: '#222' } },
    axisLabel: { customValues: xTicks, fontSize: 12, color: '#444', fontFamily: axisFont, margin: 7 },
    splitLine: { show: true, lineStyle: { color: '#e6e6e6', width: 1 } }
  },
  yAxis: {
    type: 'value',
    min: 30.1,
    max: 38.8,
    name: 'Carbon Price (USD/tCO2)',
    nameLocation: 'middle',
    nameGap: 21,
    nameMoveOverlap: false,
    nameTextStyle: { fontSize: 15, color: '#222', fontFamily: axisFont },
    axisLine: { show: true, lineStyle: { color: '#222', width: 1.5 } },
    axisTick: { show: true, inside: true, length: 5, customValues: yTicks, lineStyle: { color: '#222' } },
    axisLabel: { customValues: yTicks, fontSize: 12, color: '#444', fontFamily: axisFont, margin: 3 },
    splitLine: { show: true, lineStyle: { color: '#e6e6e6', width: 1 } }
  },
  series: series
};
myChart.setOption(option);
</script>
</body>
</html>
